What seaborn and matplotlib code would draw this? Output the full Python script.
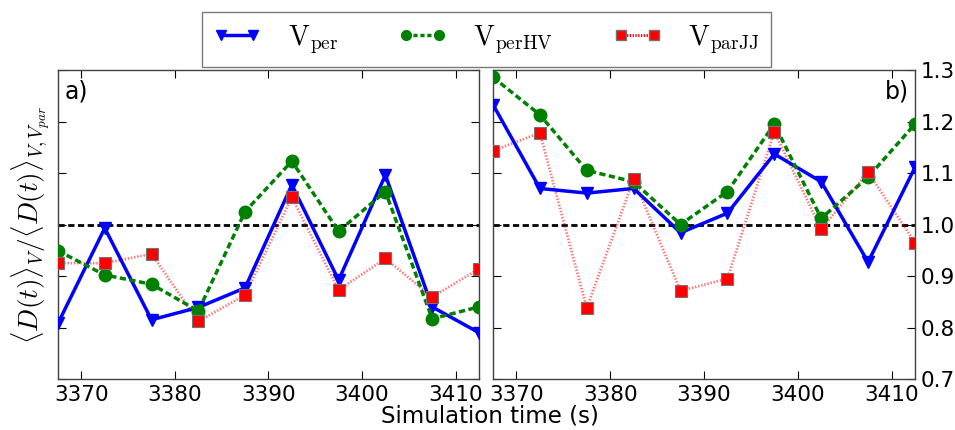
import numpy as np
import pandas as pd
import seaborn as sns
import matplotlib.pyplot as plt
from matplotlib.lines import Line2D

# data
time = [3367.5, 3372.5, 3377.5, 3382.5, 3387.5, 3392.5, 3397.5, 3402.5, 3407.5, 3412.5]

a_per = [0.808, 0.993, 0.815, 0.839, 0.877, 1.077, 0.892, 1.096, 0.840, 0.790]
a_perhv = [0.949, 0.902, 0.884, 0.832, 1.025, 1.123, 0.987, 1.064, 0.817, 0.840]
a_parjj = [0.925, 0.925, 0.943, 0.812, 0.863, 1.053, 0.873, 0.934, 0.859, 0.914]

b_per = [1.233, 1.070, 1.061, 1.070, 0.984, 1.022, 1.137, 1.083, 0.927, 1.111]
b_perhv = [1.286, 1.213, 1.105, 1.083, 1.000, 1.064, 1.195, 1.012, 1.092, 1.195]
b_parjj = [1.143, 1.178, 0.838, 1.088, 0.871, 0.895, 1.180, 0.991, 1.101, 0.965]

labels = [r'$\mathrm{V}_{\mathrm{per}}$', r'$\mathrm{V}_{\mathrm{perHV}}$', r'$\mathrm{V}_{\mathrm{parJJ}}$']

sns.set_style('ticks')
plt.rcParams['mathtext.fontset'] = 'cm'
plt.rcParams['font.family'] = ['DejaVu Sans']
plt.rcParams['text.color'] = 'black'
plt.rcParams['axes.labelcolor'] = 'black'
plt.rcParams['xtick.color'] = 'black'
plt.rcParams['ytick.color'] = 'black'
plt.rcParams['lines.scale_dashes'] = False

styles = [
    dict(color='b', linestyle='-', linewidth=2.5, marker='v', markersize=9, mec='b', mew=1),
    dict(color='g', linestyle=(0, (4.5, 2.5)), linewidth=2.5, marker='o', markersize=9, mec='g', mew=1),
    dict(color='r', linestyle='none', linewidth=2, marker='s', markersize=9, mec='0.45', mew=0.8),
]

fig = plt.figure(figsize=(9.55, 4.3), dpi=100)
ax1 = fig.add_axes([0.0607, 0.1186, 0.4408, 0.7186])
ax2 = fig.add_axes([0.5162, 0.1186, 0.4419, 0.7186])

for ax, series, tag in [(ax1, [a_per, a_perhv, a_parjj], 'a)'), (ax2, [b_per, b_perhv, b_parjj], 'b)')]:
    # red dotted line is lighter than its markers
    sns.lineplot(x=time, y=series[2], ax=ax, color='r', linestyle=(0, (1, 1.3)), linewidth=2,
                 alpha=0.55, zorder=2.5)
    for vals, st in zip(series, styles):
        sns.lineplot(x=time, y=vals, ax=ax, zorder=3, **st)
    ax.axhline(1.0, color='k', linestyle=(0, (4.5, 2.5)), linewidth=2, zorder=2)
    ax.set_xlim(3367.5, 3412.5)
    ax.set_ylim(0.7, 1.3)
    ax.set_xticks([3370, 3380, 3390, 3400, 3410])
    ax.set_yticks([0.7, 0.8, 0.9, 1.0, 1.1, 1.2, 1.3])
    ax.tick_params(direction='in', top=True, right=True, left=True, bottom=True,
                   labelsize=15.5, length=6, width=0.8, pad=4)
    for sp in ax.spines.values():
        sp.set_linewidth(1)
        sp.set_color('0.25')
    if tag == 'a)':
        ax.text(0.015, 0.97, tag, transform=ax.transAxes, fontsize=17, va='top', ha='left')
        ax.set_yticklabels([])
    else:
        ax.text(0.985, 0.97, tag, transform=ax.transAxes, fontsize=17, va='top', ha='right')
        ax.yaxis.tick_right()
        ax.tick_params(left=True, labelleft=False, labelright=True)

ax1.set_ylabel(r'$\langle D(t)\rangle_V/\langle D(t)\rangle_{V,V_{par}}$', fontsize=19.5, labelpad=0)
fig.text(0.513, 0.032, 'Simulation time (s)', ha='center', va='center', fontsize=16.5)

handles = [
    Line2D([0], [0], color='b', linestyle='-', linewidth=2.5, marker='v', markersize=7, mec='b'),
    Line2D([0], [0], color='g', linestyle=(0, (3, 2)), linewidth=2.5, marker='o', markersize=7, mec='g'),
    Line2D([0], [0], color='r', linestyle=(0, (1, 1)), linewidth=2, marker='s', markersize=7, mec='0.45'),
]
leg = fig.legend(handles, labels, loc='upper center', bbox_to_anchor=(0.509, 0.972), ncol=3,
                 numpoints=2, fontsize=20, frameon=True, fancybox=False, handlelength=1.76,
                 columnspacing=2.15, borderpad=0.4, handletextpad=0.95, borderaxespad=0)
leg.get_frame().set_edgecolor('0.35')
leg.get_frame().set_linewidth(1)

fig.savefig('out.png', dpi=100)
